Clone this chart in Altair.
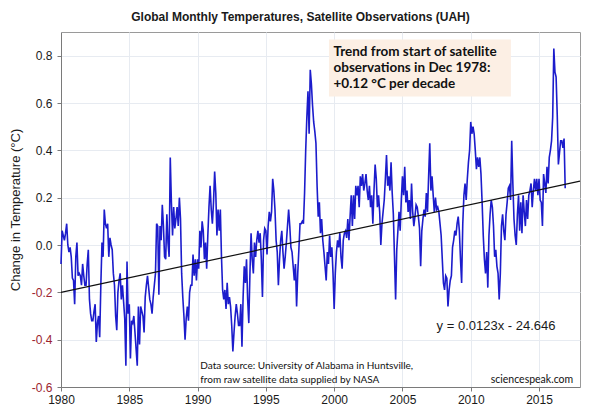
import altair as alt
import pandas as pd

# Monthly anomalies (°C), Jan 1980 .. Dec 2016
temps_1980s = [
    -0.08, 0.06, 0.04, 0.02, 0.05, 0.09, 0.00, -0.03, -0.01, -0.05, -0.14, -0.15,
    -0.25, -0.05, 0.01, -0.13, -0.12, -0.13, -0.17, -0.08, -0.13, -0.17, -0.17, -0.08,
    -0.02, -0.23, -0.29, -0.32, -0.32, -0.28, -0.25, -0.41, -0.33, -0.30, -0.39, -0.17,
    0.01, -0.05, 0.15, 0.09, 0.07, 0.09, -0.05, 0.03, 0.00, -0.02, -0.12, -0.17,
    -0.30, -0.36, -0.20, -0.15, -0.12, -0.23, -0.17, -0.24, -0.31, -0.51, -0.07, -0.29,
    -0.25, -0.48, -0.32, -0.33, -0.30, -0.37, -0.44, -0.51, -0.26, -0.42, -0.26, -0.28,
    -0.30, -0.37, -0.22, -0.17, -0.13, -0.18, -0.23, -0.25, -0.29, -0.22, -0.17, -0.12,
    0.09, 0.08, -0.21, 0.08, 0.02, 0.17, 0.08, -0.05, -0.06, 0.13, 0.01, -0.05,
    0.37, 0.18, 0.04, 0.16, 0.07, 0.11, 0.16, 0.08, 0.20, 0.11, -0.12, -0.22,
    -0.30, -0.40, -0.31, -0.26, -0.32, -0.20, -0.17, -0.17, -0.04, -0.13, -0.06, -0.15,
]
temps_1990s = [
    -0.06, -0.10, 0.06, -0.01, 0.10, 0.06, -0.06, 0.01, -0.10, 0.04, 0.16, 0.25,
    0.15, 0.09, 0.18, 0.31, 0.22, 0.04, 0.15, 0.06, 0.15, -0.05, -0.19, -0.23,
    -0.19, -0.27, -0.16, -0.25, -0.22, -0.26, -0.34, -0.45, -0.37, -0.30, -0.25, -0.29,
    -0.34, -0.34, -0.25, -0.43, -0.22, -0.09, -0.16, -0.06, -0.23, -0.33, -0.12, 0.05,
    -0.06, -0.12, 0.01, -0.05, 0.02, 0.06, 0.01, 0.05, -0.06, -0.22, 0.02, 0.07,
    0.06, -0.04, 0.08, 0.14, 0.10, 0.14, 0.28, 0.23, 0.15, 0.02, -0.03, -0.17,
    -0.06, 0.02, 0.06, -0.03, -0.10, -0.05, 0.01, 0.08, 0.15, 0.08, -0.01, -0.03,
    -0.09, -0.15, -0.08, -0.26, -0.12, -0.02, 0.09, 0.09, 0.10, 0.09, 0.22, 0.40,
    0.54, 0.65, 0.47, 0.74, 0.68, 0.59, 0.52, 0.48, 0.43, 0.25, 0.12, 0.18,
    0.05, 0.11, 0.02, -0.03, -0.09, -0.15, -0.03, -0.08, 0.04, -0.05, -0.01, -0.12,
]
temps_2000s = [
    -0.27, -0.12, -0.03, 0.02, -0.01, 0.05, -0.05, -0.10, 0.02, 0.05, 0.06, 0.03,
    0.11, 0.02, 0.12, 0.21, 0.08, 0.21, 0.11, 0.25, 0.21, 0.25, 0.16, 0.29,
    0.25, 0.30, 0.23, 0.26, 0.30, 0.23, 0.19, 0.25, 0.16, 0.21, 0.09, 0.23,
    0.34, 0.28, 0.16, 0.21, 0.14, 0.00, 0.09, 0.14, 0.19, 0.28, 0.38, 0.25,
    0.29, 0.23, 0.35, 0.22, 0.13, -0.05, -0.23, -0.02, 0.06, 0.14, 0.06, 0.19,
    0.29, 0.21, 0.33, 0.18, 0.23, 0.14, 0.19, 0.11, 0.26, 0.14, 0.08, 0.12,
    0.17, 0.16, 0.12, 0.07, -0.09, 0.06, 0.11, 0.15, 0.12, 0.22, 0.14, 0.29,
    0.43, 0.23, 0.29, 0.21, 0.14, 0.20, 0.15, 0.16, 0.14, 0.09, 0.04, -0.06,
    -0.16, -0.19, -0.13, -0.14, -0.26, -0.19, -0.15, -0.13, -0.01, 0.02, 0.06, 0.04,
    0.09, 0.12, 0.06, -0.06, -0.16, 0.09, 0.21, 0.26, 0.19, 0.28, 0.35, 0.40,
]
temps_2010s = [
    0.52, 0.47, 0.50, 0.47, 0.40, 0.32, 0.37, 0.33, 0.37, 0.30, 0.18, 0.04,
    -0.06, -0.12, -0.03, -0.18, 0.04, 0.13, 0.19, 0.16, 0.08, -0.05, -0.02, -0.09,
    -0.12, -0.23, -0.12, 0.08, 0.13, 0.06, 0.02, 0.13, 0.18, 0.24, 0.25, 0.19,
    0.44, 0.26, 0.11, 0.04, 0.00, 0.13, 0.21, 0.06, 0.18, 0.05, 0.21, 0.14,
    0.08, 0.19, 0.11, 0.21, 0.23, 0.26, 0.16, 0.23, 0.28, 0.23, 0.28, 0.21,
    0.28, 0.19, 0.18, 0.08, 0.30, 0.26, 0.22, 0.33, 0.26, 0.37, 0.40, 0.44,
    0.54, 0.83, 0.73, 0.71, 0.55, 0.34, 0.39, 0.44, 0.44, 0.41, 0.45, 0.24,
]
start_year = 1980

# Linear trend line end points
trend_years = [1980, 2018]
trend_temps = [-0.20, 0.27]

x_tick_years = [1980, 1985, 1990, 1995, 2000, 2005, 2010, 2015]
y_tick_values = [-0.6, -0.4, -0.2, 0.0, 0.2, 0.4, 0.6, 0.8]

trend_note = ["Trend from start of satellite", "observations in Dec 1978:", "+0.12 °C per decade"]
source_note = ["Data source:  University of Alabama in Huntsville,", "from raw satellite data supplied by NASA"]
equation_text = "y = 0.0123x - 24.646"
site_text = "sciencespeak.com"
title_text = "Global Monthly Temperatures, Satellite Observations (UAH)"

values = temps_1980s + temps_1990s + temps_2000s + temps_2010s
series = pd.DataFrame({
    "year": [start_year + m / 12 for m in range(len(values))],
    "temp": values,
})
trend = pd.DataFrame({"year": trend_years, "temp": trend_temps})

AX = "Liberation Sans"
NOTE = "Lato"
GRID = "#e7ebf1"

xscale = alt.Scale(domain=[1980, 2018], nice=False, zero=False)
yscale = alt.Scale(domain=[-0.6, 0.9], nice=False, zero=False)

xaxis = alt.Axis(
    values=x_tick_years, format="d", title=None, grid=True, gridColor=GRID,
    domainColor="#7a7a7a", tickColor="#7a7a7a", tickSize=4,
    labelFont=AX, labelFontSize=12, labelColor="#1a1a1a", labelPadding=3,
    labelFlush=False, labelOverlap=False,
)
yaxis = alt.Axis(
    values=y_tick_values, grid=True, gridColor=GRID,
    labelExpr="datum.value < 0 ? '-' + format(-datum.value, '.1f') : format(datum.value, '.1f')",
    labelColor={"condition": {"test": "datum.value < 0", "value": "#9c2430"}, "value": "#1a1a1a"},
    domainColor="#7a7a7a", tickColor="#7a7a7a", tickSize=4,
    labelFont=AX, labelFontSize=12, labelPadding=5,
    title="Change in Temperature (°C)", titleFont=AX, titleFontSize=13,
    titleFontWeight="normal", titleColor="#1a1a1a",
    titleX=-46, titleY=177.5, titleAngle=-90, titleAlign="center", titleBaseline="middle",
)

one = alt.Data(values=[{}])

box = alt.Chart(one).mark_rect(color="#fcefe4").encode(
    x=alt.datum(1999.62), x2=alt.datum(2012.94),
    y=alt.datum(0.868), y2=alt.datum(0.627),
)

line = alt.Chart(series).mark_line(color="#1c1ccc", strokeWidth=1.6).encode(
    x=alt.X("year:Q", scale=xscale, axis=xaxis),
    y=alt.Y("temp:Q", scale=yscale, axis=yaxis),
)

trend_line = alt.Chart(trend).mark_line(color="#111111", strokeWidth=1.2).encode(
    x="year:Q", y="temp:Q",
)

trend_label = alt.Chart(one).mark_text(
    text=trend_note, font=NOTE, fontSize=13.5, fontWeight="bold", color="#111111",
    align="left", baseline="middle", lineHeight=16,
).encode(x=alt.datum(1999.95), y=alt.datum(0.816))

eq_label = alt.Chart(one).mark_text(
    text=equation_text, font=AX, fontSize=13, color="#1a1a1a",
    align="left", baseline="middle",
).encode(x=alt.datum(2007.5), y=alt.datum(-0.341))

source_label = alt.Chart(one).mark_text(
    text=source_note, font=NOTE, fontSize=10, color="#111111",
    align="left", baseline="middle", lineHeight=14,
).encode(x=alt.datum(1990.2), y=alt.datum(-0.512))

site_label = alt.Chart(one).mark_text(
    text=site_text, font=NOTE, fontSize=10.5, color="#111111",
    align="right", baseline="middle",
).encode(x=alt.datum(2017.5), y=alt.datum(-0.571))

chart = alt.layer(
    box, line, trend_line, trend_label, eq_label, source_label, site_label
).properties(
    width=519, height=355,
    title=alt.TitleParams(
        text=title_text, font=AX, fontSize=12, fontWeight="bold", color="#1a1a1a",
        anchor="middle", dx=-20, offset=8,
    ),
    autosize=alt.AutoSizeParams(type="none"),
    padding={"left": 53, "top": 24, "right": 12, "bottom": 22},
).configure_view(stroke="#9a9a9a", strokeWidth=1)

chart.save("out.html", embed_options={"renderer": "svg", "actions": False})
